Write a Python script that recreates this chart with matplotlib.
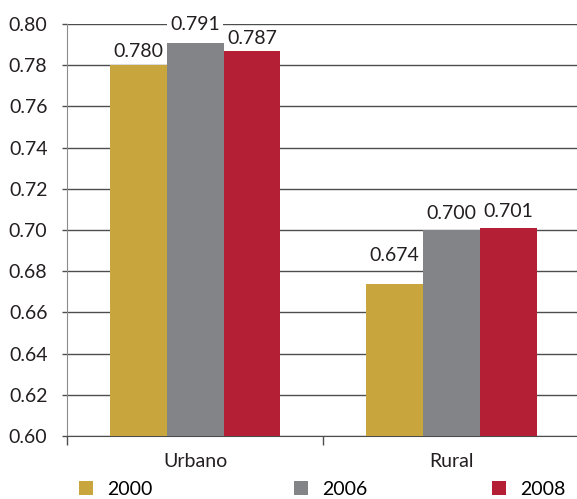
"""Grouped bar chart: Urbano vs Rural, 2000/2006/2008."""
import matplotlib
matplotlib.use("Agg")
import matplotlib.pyplot as plt
from matplotlib.patches import Patch
import numpy as np

plt.rcParams["font.family"] = ["Lato", "DejaVu Sans"]

categories = ["Urbano", "Rural"]
years = ["2000", "2006", "2008"]
values_2000 = [0.780, 0.674]
values_2006 = [0.791, 0.700]
values_2008 = [0.787, 0.701]
y_ticks = [0.60, 0.62, 0.64, 0.66, 0.68, 0.70, 0.72, 0.74, 0.76, 0.78, 0.80]

colors = ["#C9A53D", "#838487", "#B41F35"]
series = [values_2000, values_2006, values_2008]
# gap (points) between bar top and its value label, per series / category
label_gaps = [[6, 16], [9, 8], [5, 8]]
text_color = "#231F20"

fig = plt.figure(figsize=(5.77, 4.99), dpi=100)
ax = fig.add_axes([0.1161, 0.1263, 1 - 0.1161, 0.9519 - 0.1263])

x = np.arange(len(categories))
width = 0.222
for i, (vals, col) in enumerate(zip(series, colors)):
    pos = x + (i - 1) * width
    bars = ax.bar(pos, vals, width=width, color=col, zorder=3)
    for j, (b, v) in enumerate(zip(bars, vals)):
        ax.annotate(f"{v:.3f}", xy=(b.get_x() + b.get_width() / 2, v),
                    xytext=(0, label_gaps[i][j]), textcoords="offset points",
                    ha="center", va="baseline", fontsize=14, color=text_color,
                    zorder=2,
                    bbox=dict(boxstyle="square,pad=0.15", fc="white", ec="none"))

ax.set_ylim(0.60, 0.80)
ax.set_xlim(-0.5, 1.49)
ax.set_yticks(y_ticks)
ax.set_yticklabels([f"{t:.2f}" for t in y_ticks], fontsize=14, color=text_color)
ax.yaxis.grid(True, color="#4D4D4D", linewidth=1.0, zorder=0)
ax.tick_params(axis="y", length=3.6, width=1.0, color="#4D4D4D", pad=10.5)

ax.set_xticks(x)
ax.set_xticklabels(categories, fontsize=14, color=text_color)
ax.set_xticks([-0.5, 0.5], minor=True)
ax.tick_params(axis="x", which="major", length=0, pad=12)
ax.tick_params(axis="x", which="minor", length=6.5, width=1.0, color="#4D4D4D")

for side in ["top", "right"]:
    ax.spines[side].set_visible(False)
ax.spines["left"].set_color("#8C8C8C")
ax.spines["bottom"].set_color("#4D4D4D")

# one legend entry per year, each placed at its own spot along the bottom
legend_x = [78 / 577, 293 / 577, 491 / 577]
for year, col, lx in zip(years, colors, legend_x):
    fig.legend([Patch(facecolor=col, edgecolor="none")], [year],
               loc="lower left", bbox_to_anchor=(lx, 0.0), borderpad=0,
               borderaxespad=0.05, frameon=False, fontsize=14,
               handlelength=0.72, handleheight=0.72, handletextpad=0.75)

fig.savefig("out.png", dpi=100)
